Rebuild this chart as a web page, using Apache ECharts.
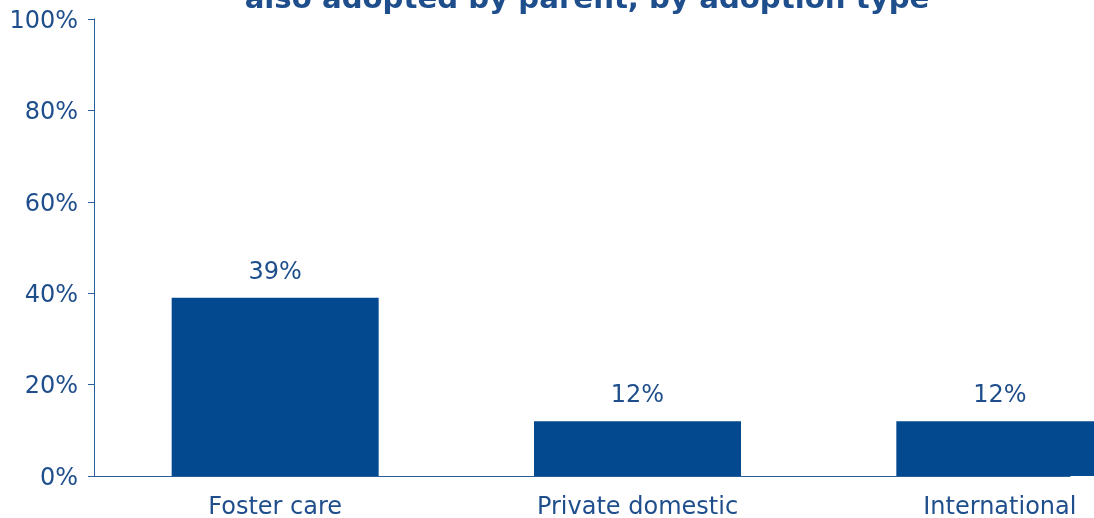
<!DOCTYPE html>
<html>
<head>
<meta charset="utf-8">
<style>
  html, body { margin: 0; padding: 0; background: #ffffff; }
  #chart { width: 1094px; height: 518px; }
</style>
<script src="https://cdn.jsdelivr.net/npm/echarts@6/dist/echarts.min.js"></script>
</head>
<body>
<div id="chart"></div>
<script>
// Share of adopted children with a sibling also adopted by the parent
const categories = ['Foster care', 'Private domestic', 'International'];
const shares = [39, 12, 12];
const yTicks = [0, 20, 40, 60, 80, 100];

const navy = '#02498f';
const textBlue = '#1f4e8c';
const lineBlue = '#2a5d9c';
const font = 'DejaVu Sans, Verdana, sans-serif';

const chart = echarts.init(document.getElementById('chart'), null, { renderer: 'canvas' });

chart.setOption({
  animation: false,
  title: {
    text: 'also adopted by parent, by adoption type',
    left: 582,
    textAlign: 'center',
    top: -19,
    textStyle: { color: textBlue, fontFamily: font, fontWeight: 'bold', fontSize: 29.2 }
  },
  grid: [
    { left: 94, top: 19, width: 1087, height: 457, containLabel: false, outerBoundsMode: 'none' },
    { left: 94, top: 19, width: 976, height: 457, containLabel: false, outerBoundsMode: 'none' }
  ],
  xAxis: [
    {
      type: 'category',
      gridIndex: 0,
      data: categories,
      axisLine: { show: false },
      axisTick: { show: false },
      axisLabel: { color: textBlue, fontFamily: font, fontSize: 24, margin: 20 }
    },
    {
      type: 'value',
      gridIndex: 1,
      min: 0,
      max: 1,
      axisLine: { show: true, lineStyle: { color: lineBlue, width: 1 } },
      axisTick: { show: false },
      axisLabel: { show: false },
      splitLine: { show: false }
    }
  ],
  yAxis: [
    {
      type: 'value',
      gridIndex: 0,
      min: 0,
      max: 100,
      interval: 20,
      axisLine: { show: true, lineStyle: { color: lineBlue, width: 1 } },
      axisTick: { show: true, length: 6, lineStyle: { color: lineBlue } },
      splitLine: { show: false },
      axisLabel: {
        margin: 16,
        formatter: v => (yTicks.includes(v) ? '{t|' + v + '%}' : ''),
        rich: {
          t: {
            color: textBlue,
            fontFamily: font,
            fontSize: 24,
            padding: [5, 0, 0, 0]
          }
        }
      }
    },
    {
      type: 'value',
      gridIndex: 1,
      show: false,
      min: 0,
      max: 100
    }
  ],
  series: [
    {
      type: 'bar',
      xAxisIndex: 0,
      yAxisIndex: 0,
      data: shares,
      barWidth: 207,
      itemStyle: { color: navy },
      label: {
        show: true,
        position: 'top',
        distance: 13,
        color: textBlue,
        fontFamily: font,
        fontSize: 24,
        formatter: p => p.value + '%'
      }
    }
  ]
});
</script>
</body>
</html>
